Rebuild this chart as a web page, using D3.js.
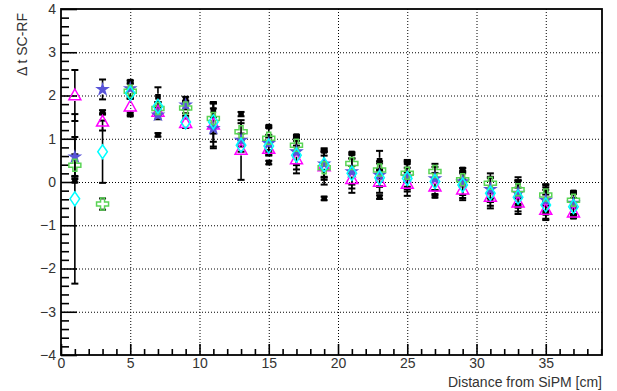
<!DOCTYPE html>
<html>
<head>
<meta charset="utf-8">
<script src="https://cdn.jsdelivr.net/npm/d3@7"></script>
<style>
  html, body { margin: 0; padding: 0; background: #fff; }
  svg { display: block; font-family: "Liberation Sans", Arial, Helvetica, sans-serif; }
</style>
</head>
<body>
<svg id="chart" width="617" height="391"></svg>
<script>
// Distance from the SiPM (cm) at which each measurement was taken
const distances = [1, 3, 5, 7, 9, 11, 13, 15, 17, 19, 21, 23, 25, 27, 29, 31, 33, 35, 37];

// Black full squares, upper set
const blackUpper    = [null, 1.61, 2.32, 1.97, 1.92, 1.66, 1.57, 1.28, 1.06, 0.72, 0.66, 0.49, 0.45, null, 0.29, null, -0.01, -0.18, -0.24];
const blackUpperErr = [0, 0.05, 0.03, 0.22, 0.05, 0.16, 0.05, 0.03, 0.03, 0.03, 0.03, 0.23, 0.03, 0, 0.03, 0, 0.12, 0.11, 0.03];

// Black full squares, lower set
const blackLower    = [0.03, null, 1.56, 1.09, null, null, null, 0.45, null, -0.38, null, -0.35, null, -0.32, null, -0.42, -0.55, -0.71, -0.80];
const blackLowerErr = [0.04, 0, 0.04, 0.04, 0, 0, 0, 0.04, 0, 0.04, 0, 0.04, 0, 0.04, 0, 0.04, 0.04, 0.04, 0.04];

// Magenta open triangles
const triangleVals = [2.00, 1.39, 1.74, 1.62, 1.36, 1.32, 0.74, 0.76, 0.52, 0.36, 0.06, 0.00, -0.05, -0.11, -0.18, -0.35, -0.48, -0.65, -0.71];
const triangleErr  = [0.59, 0.20, 0.19, 0.10, 0.11, 0.50, 0.69, 0.15, 0.32, 0.42, 0.31, 0.25, 0.27, 0.20, 0.24, 0.20, 0.20, 0.20, 0.10];

// Blue full stars
const starVals = [0.58, 2.14, 2.16, 1.55, 1.78, 1.24, 0.97, 0.89, 0.70, 0.42, 0.24, 0.16, 0.12, 0.08, 0.01, -0.17, -0.26, -0.42, -0.49];
const starErr  = [0.46, 0.23, 0.18, 0.10, 0.10, 0.46, 0.15, 0.20, 0.31, 0.30, 0.30, 0.27, 0.34, 0.27, 0.31, 0.29, 0.30, 0.30, 0.25];

// Green open crosses
const crossVals = [0.39, -0.51, 2.10, 1.70, 1.71, 1.47, 1.16, 1.01, 0.85, 0.33, 0.43, 0.28, 0.20, 0.24, 0.05, -0.03, -0.18, -0.30, -0.42];
const crossErr  = [0.25, 0.13, 0.17, 0.15, 0.12, 0.35, 0.20, 0.27, 0.21, 0.28, 0.23, 0.20, 0.31, 0.18, 0.15, 0.23, 0.20, 0.25, 0.15];

// Cyan open diamonds
const diamondVals = [-0.39, 0.70, 2.05, 1.75, 1.39, 1.39, 0.85, 0.83, 0.62, 0.40, 0.20, 0.10, 0.08, 0.01, -0.07, -0.26, -0.35, -0.53, -0.57];
const diamondErr  = [1.96, 0.72, 0.12, 0.10, 0.14, 0.46, 0.15, 0.20, 0.33, 0.30, 0.35, 0.20, 0.25, 0.20, 0.30, 0.35, 0.39, 0.35, 0.20];

// Axis ticks
const xMajorTicks = [0, 5, 10, 15, 20, 25, 30, 35];
const yMajorTicks = [-4, -3, -2, -1, 0, 1, 2, 3, 4];
const xTitle = "Distance from SiPM [cm]";
const yTitle = "\u0394 t SC-RF";

const frame = { left: 61, right: 602, top: 9, bottom: 355 };

const svg = d3.select("#chart");

const x = d3.scaleLinear().domain([0, 39.06]).range([frame.left, frame.right]);
const y = d3.scaleLinear().domain([-4, 4]).range([frame.bottom, frame.top]);

const fmt = v => (v < 0 ? "\u2212" + Math.abs(v) : String(v));

// Dotted grid at the major ticks
const grid = svg.append("g").attr("stroke", "#000").attr("stroke-width", 1)
  .attr("stroke-dasharray", "1,2").attr("fill", "none");
grid.selectAll("line.gx").data(xMajorTicks.filter(t => t > 0))
  .join("line").attr("class", "gx")
  .attr("x1", d => x(d) + 0.5).attr("x2", d => x(d) + 0.5)
  .attr("y1", frame.bottom).attr("y2", frame.top);
grid.selectAll("line.gy").data(yMajorTicks.filter(t => t > -4 && t < 4))
  .join("line").attr("class", "gy")
  .attr("x1", frame.left).attr("x2", frame.right)
  .attr("y1", d => y(d) + 0.5).attr("y2", d => y(d) + 0.5);

// Axes: ticks point into the frame
const xMinor = d3.range(0, 39.01, 1).filter(v => v % 5 !== 0);
const yMinor = d3.range(-4, 4.001, 0.2).map(v => +v.toFixed(1)).filter(v => Math.abs(v - Math.round(v)) > 1e-6);

svg.append("g").attr("transform", `translate(0,${frame.bottom})`)
  .call(d3.axisBottom(x).tickValues(xMajorTicks).tickFormat(fmt).tickSize(-11).tickSizeOuter(0).tickPadding(3));
svg.append("g").attr("transform", `translate(0,${frame.bottom})`)
  .call(d3.axisBottom(x).tickValues(xMinor).tickFormat("").tickSize(-6).tickSizeOuter(0));

svg.append("g").attr("transform", `translate(${frame.left},0)`)
  .call(d3.axisLeft(y).tickValues(yMajorTicks).tickFormat(fmt).tickSize(-16).tickSizeOuter(0).tickPadding(5));
svg.append("g").attr("transform", `translate(${frame.left},0)`)
  .call(d3.axisLeft(y).tickValues(yMinor).tickFormat("").tickSize(-8).tickSizeOuter(0));

svg.selectAll(".domain").remove();
svg.selectAll(".tick line").attr("stroke", "#000").attr("stroke-width", 1.6);
svg.selectAll(".tick text").attr("font-size", 14).attr("fill", "#333")
  .attr("font-family", "'Liberation Sans', Arial, sans-serif");

// Frame box
svg.append("rect")
  .attr("x", frame.left).attr("y", frame.top)
  .attr("width", frame.right - frame.left).attr("height", frame.bottom - frame.top)
  .attr("fill", "none").attr("stroke", "#000").attr("stroke-width", 1.8);

// Axis titles
svg.append("text")
  .attr("x", frame.right).attr("y", 387)
  .attr("text-anchor", "end").attr("font-size", 14).attr("fill", "#333")
  .text(xTitle);
svg.append("text")
  .attr("transform", `translate(27,${frame.top + 4}) rotate(-90)`)
  .attr("text-anchor", "end").attr("font-size", 14).attr("fill", "#333")
  .text(yTitle);

// Marker shapes
const shapes = {
  square: "M-2.8,-2.8H2.8V2.8H-2.8Z",
  triangle: "M0,-6.5L6,4.2H-6Z",
  cross: "M-2,-6H2V-2H6V2H2V6H-2V2H-6V-2H-2Z",
  diamond: "M0,-7L4.8,0L0,7L-4.8,0Z",
  star: d3.symbol(d3.symbolStar, 68)()
};

const series = [
  { vals: blackUpper, errs: blackUpperErr, shape: "square", fill: "#000", stroke: "none", half: 3 },
  { vals: blackLower, errs: blackLowerErr, shape: "square", fill: "#000", stroke: "none", half: 3 },
  { vals: triangleVals, errs: triangleErr, shape: "triangle", fill: "none", stroke: "#ff00ff", half: 5.5 },
  { vals: starVals, errs: starErr, shape: "star", fill: "#5954d8", stroke: "none", half: 5 },
  { vals: crossVals, errs: crossErr, shape: "cross", fill: "none", stroke: "#59d454", half: 6 },
  { vals: diamondVals, errs: diamondErr, shape: "diamond", fill: "none", stroke: "#00ffff", half: 7 }
];

const pointsOf = s => distances.map((d, i) => ({ d, v: s.vals[i], e: s.errs[i] })).filter(p => p.v !== null);

// Error bars first (with a gap where each marker sits), markers on top
const bars = svg.append("g").attr("stroke", "#000").attr("stroke-width", 1.6);
series.forEach(s => {
  pointsOf(s).filter(p => p.e > 0).forEach(p => {
    const cx = x(p.d), cy = y(p.v), yt = y(p.v + p.e), yb = y(p.v - p.e);
    if (cy - s.half > yt) bars.append("line").attr("x1", cx).attr("x2", cx).attr("y1", yt).attr("y2", cy - s.half);
    if (cy + s.half < yb) bars.append("line").attr("x1", cx).attr("x2", cx).attr("y1", cy + s.half).attr("y2", yb);
    bars.append("line").attr("x1", cx - 3.5).attr("x2", cx + 3.5).attr("y1", yt).attr("y2", yt).attr("stroke-width", 2);
    bars.append("line").attr("x1", cx - 3.5).attr("x2", cx + 3.5).attr("y1", yb).attr("y2", yb).attr("stroke-width", 2);
  });
});

series.forEach(s => {
  svg.append("g").selectAll("path").data(pointsOf(s)).join("path")
    .attr("d", shapes[s.shape])
    .attr("transform", p => `translate(${x(p.d)},${y(p.v)})`)
    .attr("fill", s.fill).attr("stroke", s.stroke).attr("stroke-width", 1.5);
});
</script>
</body>
</html>
